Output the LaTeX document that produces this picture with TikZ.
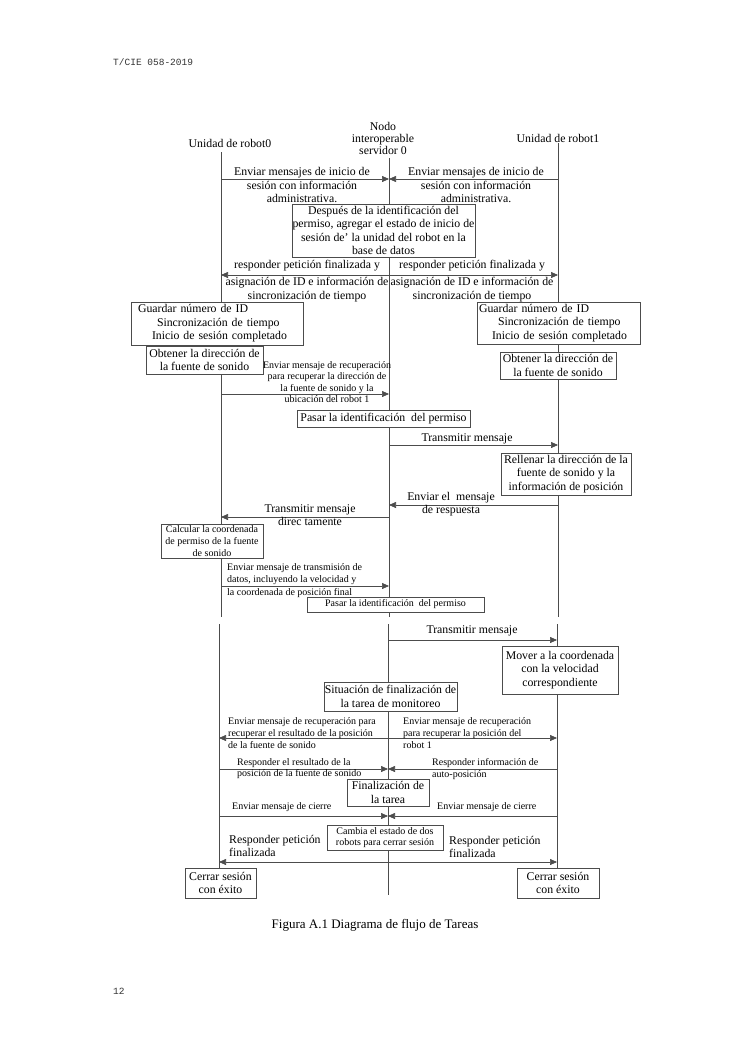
\documentclass[tikz,border=0pt]{standalone}
\usepackage{fontspec}
\setmainfont{Liberation Serif}
\newfontfamily\hdrfont{Liberation Mono}
\usetikzlibrary{arrows.meta}
\newcommand\fmain{\fontsize{11.8}{13.5}\selectfont}
\newcommand\fsm{\fontsize{10}{11.6}\selectfont}
\definecolor{ln}{gray}{0.3}
\begin{document}
\begin{tikzpicture}[x=1pt,y=-1pt,
  box/.style={draw=ln, line width=0.6pt, fill=white, inner sep=0.8pt, align=center, font=\fmain},
  sbox/.style={box, font=\fsm},
  lbl/.style={inner sep=0pt, align=center, font=\fmain},
  llbl/.style={inner sep=0pt, align=left, font=\fmain, anchor=west},
  slbl/.style={inner sep=0pt, align=left, font=\fsm, anchor=west},
  sclbl/.style={inner sep=0pt, align=center, font=\fsm},
  life/.style={draw=ln, line width=0.6pt},
  msg/.style={draw=ln, line width=0.6pt, -{Triangle[length=7pt,width=6pt]}}]
\fill[white] (0,0) rectangle (750,1060);
\useasboundingbox (0,0) rectangle (750,1060);

% page furniture
\node[inner sep=0pt, anchor=west, font=\hdrfont\fontsize{9.5}{11}\selectfont, text=black!80] (hdr) at (113,62) {T/CIE 058-2019};
\node[inner sep=0pt, anchor=west, font=\hdrfont\fontsize{9.5}{11}\selectfont, text=black!80] (pg) at (113,991) {12};
\node[inner sep=0pt, font=\fontsize{13}{15}\selectfont] (cap) at (375,925) {Figura A.1 Diagrama de flujo de Tareas};

% headers
\node[lbl] (h0) at (230,143) {Unidad de robot0};
\node[lbl, font=\fontsize{11.8}{12}\selectfont] (hm) at (383,138) {Nodo\\interoperable\\servidor 0};
\node[lbl] (h1) at (558,138) {Unidad de robot1};

% lifelines, part 1
\coordinate (a0) at (221,152); \coordinate (b0) at (221,617);
\coordinate (am) at (389,158); \coordinate (bm) at (389,617);
\coordinate (a1) at (558,143); \coordinate (b1) at (558,617);
\draw[life] (a0) -- (b0);
\draw[life] (am) -- (bm);
\draw[life] (a1) -- (b1);

% lifelines, part 2
\coordinate (c0) at (219,624);
\coordinate (cm) at (388,624); \coordinate (dm) at (388,895);
\coordinate (c1) at (557,624);
\coordinate (d0) at (219,868); \coordinate (d1) at (557,868);
\draw[life] (c0) -- (d0);
\draw[life] (cm) -- (dm);
\draw[life] (c1) -- (d1);

% messages part 1
\coordinate (p1) at (221,179); \coordinate (q1) at (389,179); \coordinate (r1) at (558,179);
\draw[msg] (p1) -- (q1); \draw[msg] (r1) -- (q1);
\coordinate (p2) at (221,275); \coordinate (q2) at (389,275); \coordinate (r2) at (558,275);
\draw[msg] (q2) -- (p2); \draw[msg] (q2) -- (r2);
\coordinate (p3) at (221,394); \coordinate (q3) at (389,394);
\draw[msg] (p3) -- (q3);
\coordinate (q4) at (389,445); \coordinate (r4) at (558,445);
\draw[msg] (q4) -- (r4);
\coordinate (q5) at (389,505); \coordinate (r5) at (558,505);
\draw[msg] (r5) -- (q5);
\coordinate (p6) at (221,517); \coordinate (q6) at (389,517);
\draw[msg] (q6) -- (p6);
\coordinate (p7) at (221,586); \coordinate (q7) at (389,586);
\draw[msg] (p7) -- (q7);

% messages part 2
\coordinate (q8) at (388,640); \coordinate (r8) at (557,640);
\draw[msg] (q8) -- (r8);
\coordinate (p9) at (219,738); \coordinate (q9) at (388,738); \coordinate (r9) at (557,738);
\draw[msg] (q9) -- (p9); \draw[msg] (q9) -- (r9);
\coordinate (p10) at (219,769); \coordinate (q10) at (388,769); \coordinate (r10) at (557,769);
\draw[msg] (p10) -- (q10); \draw[msg] (r10) -- (q10);
\coordinate (p11) at (219,816); \coordinate (q11) at (388,816); \coordinate (r11) at (557,816);
\draw[msg] (p11) -- (q11); \draw[msg] (r11) -- (q11);
\coordinate (p12) at (219,862); \coordinate (q12) at (388,862); \coordinate (r12) at (557,862);
\draw[msg] (q12) -- (p12); \draw[msg] (q12) -- (r12);

% boxes
\node[box, minimum width=183pt, minimum height=53pt, inner xsep=0.3pt] (dep) at (383.5,230.5)
  {Después de la identificación del\\permiso, agregar el estado de inicio de\\sesión de' la unidad del robot en la\\base de datos};
\node[box, align=left, text width=172pt, inner xsep=0pt, minimum height=43pt] (g0) at (217,323.5)
  {\hspace*{7pt}Guardar número de ID\\\hspace*{26pt}Sincronización de tiempo\\\hspace*{21pt}Inicio de sesión completado};
\node[box, align=left, text width=163pt, inner xsep=0pt, minimum height=42pt] (g1) at (558.5,323)
  {\hspace*{2pt}Guardar número de ID\\\hspace*{21pt}Sincronización de tiempo\\\hspace*{15pt}Inicio de sesión completado};
\node[box, minimum width=117pt, minimum height=28pt] (ob0) at (204.5,360) {Obtener la dirección de\\la fuente de sonido};
\node[box, minimum width=116pt, minimum height=27pt] (ob1) at (558,365.5) {Obtener la dirección de\\la fuente de sonido};
\node[box, minimum width=173pt, minimum height=17pt] (pas1) at (383.5,418.5) {Pasar la identificación\ \ del permiso};
\node[box, minimum width=130pt, minimum height=42pt] (rel) at (566,474) {Rellenar la dirección de la\\fuente de sonido y la\\información de posición};
\node[sbox, minimum width=102pt, minimum height=34pt] (calc) at (212,541) {Calcular la coordenada\\de permiso de la fuente\\de sonido};
\node[sbox, minimum width=177pt, minimum height=15pt] (pas2) at (395.5,604.5) {Pasar la identificación\ \ del permiso};
\node[box, minimum width=116pt, minimum height=48pt] (mov) at (560,670) {Mover a la coordenada\\con la velocidad\\correspondiente};
\node[box, minimum width=133pt, minimum height=29pt, inner xsep=0.3pt] (sit) at (390.5,696.5) {Situación de finalización de\\la tarea de monitoreo};
\node[box, minimum width=82pt, minimum height=27pt] (fin) at (388,792.5) {Finalización de\\la tarea};
\node[sbox, minimum width=116pt, minimum height=25pt] (cam) at (385,837.5) {Cambia el estado de dos\\robots para cerrar sesión};
\node[box, minimum width=71pt, minimum height=30pt] (cs0) at (220.5,883) {Cerrar sesión\\con éxito};
\node[box, minimum width=82pt, minimum height=30pt] (cs1) at (558,883) {Cerrar sesión\\con éxito};

% labels part 1
\node[lbl] (l1) at (302,185) {Enviar mensajes de inicio de\\sesión con información\\administrativa.};
\node[lbl] (l2) at (476,185) {Enviar mensajes de inicio de\\sesión con información\\administrativa.};
\node[lbl] (l3) at (307,281) {responder petición finalizada y\\[3.5pt]asignación de ID e información de\\sincronización de tiempo};
\node[lbl] (l4) at (472,281) {responder petición finalizada y\\[3.5pt]asignación de ID e información de\\sincronización de tiempo};
\node[sclbl] (l5) at (327,382) {Enviar mensaje de recuperación\\para recuperar la dirección de\\la fuente de sonido y la\\ubicación del robot 1};
\node[lbl] (l6) at (467,439) {Transmitir mensaje};
\node[lbl] (l7) at (451,504) {Enviar el\ \ mensaje\\de respuesta};
\node[lbl] (l8) at (310,515) {Transmitir mensaje\\direc tamente};
\node[slbl] (l9) at (227,580.5) {Enviar mensaje de transmisión de\\[1pt]datos, incluyendo la velocidad y\\[1pt]la coordenada de posición final};

% labels part 2
\node[lbl] (k1) at (472,631) {Transmitir mensaje};
\node[slbl] (k2) at (228,733) {Enviar mensaje de recuperación para\\[0.4pt]recuperar el resultado de la posición\\[0.4pt]de la fuente de sonido};
\node[slbl] (k3) at (403,733) {Enviar mensaje de recuperación\\[0.4pt]para recuperar la posición del\\[0.4pt]robot 1};
\node[slbl] (k4) at (237,768.5) {Responder el resultado de la\\posición de la fuente de sonido};
\node[slbl] (k5) at (432,769) {Responder información de\\auto-posición};
\node[slbl] (k6) at (232,807) {Enviar mensaje de cierre};
\node[slbl] (k7) at (437,807) {Enviar mensaje de cierre};
\node[llbl] (k8) at (229,846) {Responder petición\\finalizada};
\node[llbl] (k9) at (449,847) {Responder petición\\finalizada};
\end{tikzpicture}
\end{document}
